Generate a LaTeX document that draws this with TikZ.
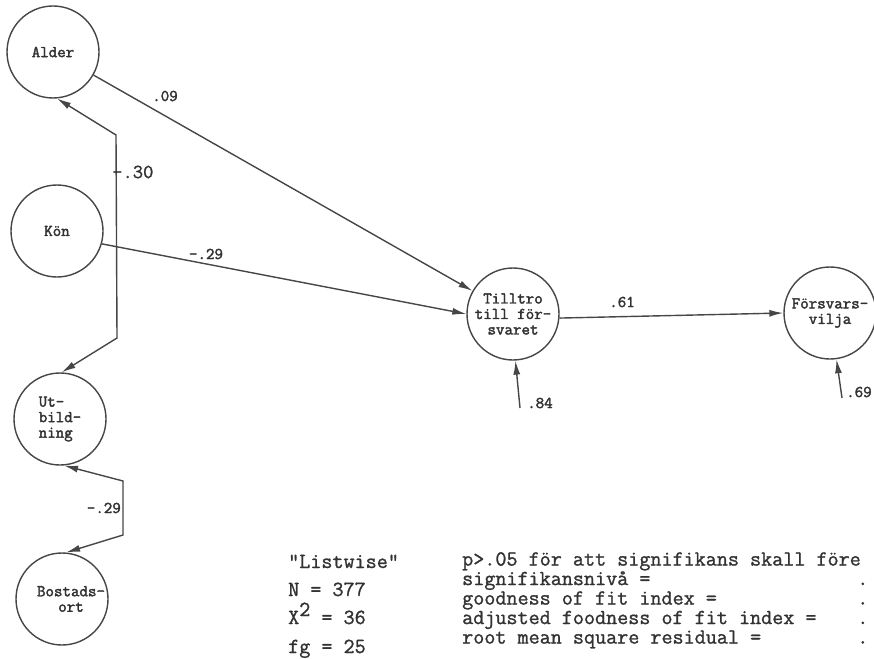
\documentclass[tikz,border=0pt]{standalone}
\usepackage{fontspec}
\setmonofont{Latin Modern Mono}[FakeBold=1.2]
\newfontfamily\nodefont{Latin Modern Mono}[FakeBold=2.2]
\usetikzlibrary{arrows.meta}
\definecolor{ink}{RGB}{50,50,50}
\definecolor{wire}{RGB}{70,70,70}

\begin{document}
\begin{tikzpicture}[x=1pt,y=-1pt,
  var/.style = {draw=wire, circle, line width=1.4pt, minimum size=92pt, inner sep=0pt, align=center, text=ink, font=\nodefont\fontsize{16.5}{15.5}\selectfont},
  effect/.style = {draw=wire, line width=1.4pt, -{Latex[length=14pt,width=7pt]}},
  corr/.style = {draw=wire, line width=1.4pt, {Latex[length=14pt,width=7pt]}-{Latex[length=14pt,width=7pt]}},
  coef/.style = {inner sep=0pt, text=ink, font=\nodefont\fontsize{16.5}{15.5}\selectfont},
  info/.style = {inner sep=0pt, text=ink, align=left, font=\ttfamily\fontsize{21.5}{19.5}\selectfont}]
	\useasboundingbox (0,0) rectangle (874,658);
	% latent variables
	\node[var] (Alder) at (53,52) {Alder};
	\node[var] (Kon) at (57,231) {Kön};
	\node[var, align=left] (Utb) at (60,419) {Ut-\\bild-\\ning};
	\node[var] (Bost) at (62,599) {\hspace*{18pt}Bostads-\\\hspace*{18pt}ort};
	\node[var] (Tilltro) at (513,314) {Tilltro\\till för-\\svaret};
	\node[var] (Forsvar) at (830,313) {Försvars-\\vilja};
	% paths
	\draw[effect] (Alder) -- (Tilltro);
	\draw[effect] (Kon.-16) -- (Tilltro.west);
	\draw[effect] (Tilltro.-5) -- (Forsvar.west);
	\node[coef] at (165,96) {.09};
	\node[coef] at (206,254) {-.29};
	\node[coef] at (622,302) {.61};
	% correlations
	\coordinate (a1) at (116,135);
	\coordinate (a2) at (117,338);
	\draw[corr] (Alder.-85) -- (a1) -- (a2) -- (Utb.88);
	\node[coef, anchor=west, font=\ttfamily\fontsize{20}{20}\selectfont] at (112,172) {-.30};
	\coordinate (b1) at (123,481);
	\coordinate (b2) at (123,535);
	\draw[corr] (Utb.-85) -- (b1) -- (b2) -- (Bost.85);
	\node[coef, anchor=east] at (121,508) {-.29};
	% residuals
	\coordinate (r1) at (520,408);
	\coordinate (r2) at (842,398);
	\draw[effect] (r1) -- (Tilltro.-87);
	\draw[effect] (r2) -- (Forsvar.-82);
	\node[coef, anchor=west] at (527,403) {.84};
	\node[coef, anchor=west] at (846,392) {.69};
	% fit
	\node[info, anchor=base west] (list) at (288,568) {"Listwise"};
	\node[info, anchor=base west] (n) at (288,596) {N = 377};
	\node[info, anchor=base west] (chi) at (288,624) {X\raisebox{8pt}{2} = 36};
	\node[info, anchor=base west] (fg) at (288,653) {fg = 25};
	\node[info, anchor=north west] (fit) at (462,552) {p>.05 för att signifikans skall före\\
		\makebox[18.375em][l]{signifikansnivå =}.\\
		\makebox[18.375em][l]{goodness of fit index =}.\\
		\makebox[18.375em][l]{adjusted foodness of fit index =}.\\
		\makebox[18.375em][l]{root mean square residual =}.};
\end{tikzpicture}
\end{document}
